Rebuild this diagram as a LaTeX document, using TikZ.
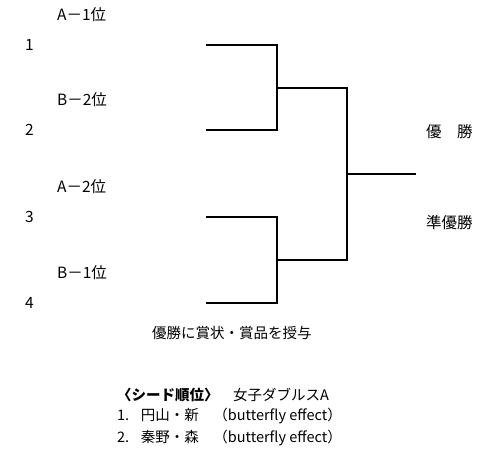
\documentclass[tikz,border=0pt]{standalone}
\usepackage{fontspec}
\setmainfont{Noto Sans CJK JP}
\usetikzlibrary{calc}
\tikzset{
  lbl/.style={anchor=west, inner sep=0pt, font=\fontsize{15.5}{17}\selectfont},
  note/.style={anchor=west, inner sep=0pt, font=\fontsize{14.5}{16}\selectfont},
  bline/.style={line width=1.6pt},
}

\begin{document}
\begin{tikzpicture}[x=1pt,y=-1pt]
    \useasboundingbox (0,0) rectangle (503,462);
    % players and their seeds
    \foreach \i/\y/\lab in {1/45/A－1位, 2/130/B－2位, 3/217/A－2位, 4/303/B－1位} {
        \node[lbl] (num\i) at (25,\y) {\i};
        \node[lbl] (seed\i) at (57,\y-30) {\lab};
        \coordinate (start\i) at (206,\y);
    }
    \coordinate (semi1) at (277,88);
    \coordinate (semi2) at (277,260);
    \coordinate (final) at (347,174);
    \coordinate (champ) at (416,174);

    \draw[bline] (start1) -| (semi1) |- (start2);
    \draw[bline] (start3) -| (semi2) |- (start4);
    \draw[bline] (semi1) -| (final) |- (semi2);
    \draw[bline] (final) -- (champ);

    \node[lbl] (winner) at (426,132) {優　勝};
    \node[lbl] (runner) at (426,223) {準優勝};

    \node[note] (prize) at (152,333) {優勝に賞状・賞品を授与};
    \node[note] (title) at (117,395) {{\bfseries 〈シード順位〉}　女子ダブルスA};
    \node[note] (rank1) at (117,416) {1.\hspace{0.8em}円山・新　（butterfly effect）};
    \node[note] (rank2) at (117,438) {2.\hspace{0.8em}秦野・森　（butterfly effect）};
\end{tikzpicture}
\end{document}
